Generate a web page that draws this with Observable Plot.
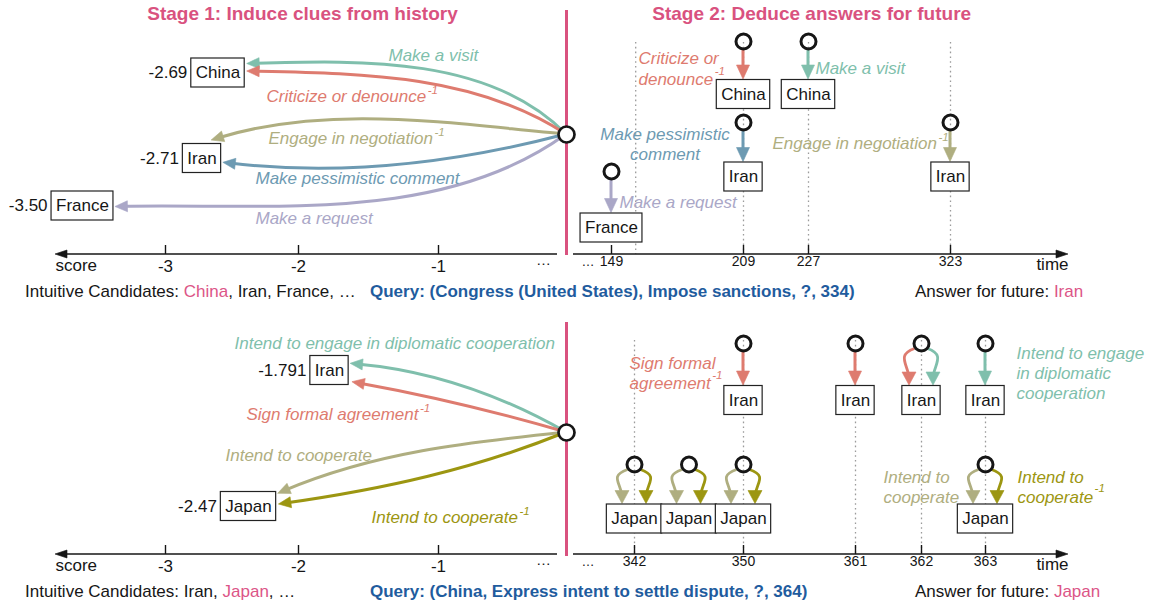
<!DOCTYPE html>
<html><head><meta charset="utf-8">
<script src="https://cdn.jsdelivr.net/npm/d3@7"></script>
<script src="https://cdn.jsdelivr.net/npm/@observablehq/plot@0.6"></script>
<style>
  body { margin: 0; background: #fff; }
  #wrap { position: relative; width: 1153px; height: 605px; overflow: hidden; font-family: "Liberation Sans", Arial, Helvetica, sans-serif; color: #161616; }
  #wrap svg { position: absolute; left: 0; }
  .abs { position: absolute; white-space: nowrap; }
  .title { font-weight: bold; font-size: 19px; line-height: 22px; color: #d9527f; text-align: center; width: 420px; }
  .cap { font-size: 17px; line-height: 20px; }
  .q { font-weight: bold; color: #1f5c9e; }
  .hl { color: #dc5587; }
</style></head>
<body><div id="wrap"></div>
<script>
// ======================= DATA =======================
const stageTitles = ["Stage 1: Induce clues from history", "Stage 2: Deduce answers for future"];
const scoreTicks = [-3, -2, -1];

// ---- Query 1 ----
const q1Query = "(Congress (United States), Impose sanctions, ?, 334)";
const q1QueryTime = 334;
const q1Candidates = ["China", "Iran", "France"];
const q1Scores = [-2.69, -2.71, -3.50];
const q1ScoreLabels = ["-2.69", "-2.71", "-3.50"];
const q1Intuitive = ["China", "Iran", "France"];
const q1IntuitiveMark = "China";
const q1Answer = "Iran";
const q1ClueRelations = ["Make a visit", "Criticize or denounce⁻¹", "Engage in negotiation⁻¹", "Make pessimistic comment", "Make a request"];
const q1ClueTargets = ["China", "China", "Iran", "Iran", "France"];
const q1EventTimes = [149, 209, 209, 227, 323];
const q1EventEntities = ["France", "Iran", "China", "China", "Iran"];
const q1EventRelations = ["Make a request", "Make pessimistic comment", "Criticize or denounce⁻¹", "Make a visit", "Engage in negotiation⁻¹"];
const q1TimeTicks = [149, 209, 227, 323];

// ---- Query 2 ----
const q2Query = "(China, Express intent to settle dispute, ?, 364)";
const q2QueryTime = 364;
const q2Candidates = ["Iran", "Japan"];
const q2Scores = [-1.791, -2.47];
const q2ScoreLabels = ["-1.791", "-2.47"];
const q2Intuitive = ["Iran", "Japan"];
const q2IntuitiveMark = "Japan";
const q2Answer = "Japan";
const q2ClueRelations = ["Intend to engage in diplomatic cooperation", "Sign formal agreement⁻¹", "Intend to cooperate", "Intend to cooperate⁻¹"];
const q2ClueTargets = ["Iran", "Iran", "Japan", "Japan"];
const q2EventTimes = [342, 342, 346, 346, 350, 350, 350, 361, 362, 362, 363, 363, 363];
const q2EventEntities = ["Japan", "Japan", "Japan", "Japan", "Japan", "Japan", "Iran", "Iran", "Iran", "Iran", "Iran", "Japan", "Japan"];
const q2EventRelations = ["Intend to cooperate", "Intend to cooperate⁻¹", "Intend to cooperate", "Intend to cooperate⁻¹",
  "Intend to cooperate", "Intend to cooperate⁻¹", "Sign formal agreement⁻¹", "Sign formal agreement⁻¹",
  "Sign formal agreement⁻¹", "Intend to engage in diplomatic cooperation", "Intend to engage in diplomatic cooperation",
  "Intend to cooperate", "Intend to cooperate⁻¹"];
const q2TimeTicks = [342, 350, 361, 362, 363];

// ======================= STYLE / LAYOUT =======================
const FONT = '"Liberation Sans", Arial, Helvetica, sans-serif';
const INK = "#161616", PINK = "#d9527f";
const COL = {teal: "#7fbfac", salmon: "#de7b6f", khaki: "#afae80", steel: "#6d9ab2", lavender: "#aaa7c7", olive: "#9c9611"};
const relColor = {
  "Make a visit": COL.teal, "Criticize or denounce⁻¹": COL.salmon, "Engage in negotiation⁻¹": COL.khaki,
  "Make pessimistic comment": COL.steel, "Make a request": COL.lavender,
  "Intend to engage in diplomatic cooperation": COL.teal, "Sign formal agreement⁻¹": COL.salmon,
  "Intend to cooperate": COL.khaki, "Intend to cooperate⁻¹": COL.olive
};
const QX = 0;                 // x position of the query (divider)
const BOX_H = 29, BOX_PAD = 4.5, R_EVENT = 7.5, R_QUERY = 8;

const L1 = {
  y0: 0, axisY: 254, queryY: 134, pinkY: [10, 255], guideTop: 42, guides: [160, 209, 227, 323],
  xDomain: [-3.7, -3.5, -3, -2.71, -2.69, -2, -1, 0, 149, 209, 227, 323, 334],
  xRange:  [55, 82, 165, 201.5, 217.5, 298, 438, 566, 611, 743, 808, 950, 1068],
  candRows: {China: 72.5, Iran: 158, France: 205.5},
  eventRows: {China: [41, 94], Iran: [122, 176.5], France: [171, 227.5]},
  clueArrows: [
    {endDx: 2.5, endDy: -9, bend: [-33, -14]},
    {endDx: 2.5, endDy: -1.5, bend: [-22, -10]},
    {endDx: -9.5, endDy: -18, bend: [-6, -16]},
    {endDx: 2.2, endDy: 4.3, bend: [10, 11.5]},
    {endDx: 2, endDy: 1, bend: [27, 8]}
  ],
  clueLabels: [{dx: -178, y: 55}, {dx: -300, y: 96}, {dx: -298, y: 138}, {dx: -311, y: 178}, {dx: -311, y: 218}],
  eventLabels: [
    {event: 0, dx: 8, y: 202},
    {event: 1, dx: -78.5, y: 134, breaks: [2], anchor: "middle"},
    {event: 2, dx: -105, y: 58, breaks: [2], gap: 21, supDy: -8},
    {event: 3, dx: 7, y: 68},
    {event: 4, dx: -178, y: 143}
  ],
  captionTop: 282
};
const L2 = {
  y0: 300, axisY: 554, queryY: 432, pinkY: [322, 556], guideTop: 340, guides: q2TimeTicks,
  xDomain: [-3.7, -3, -2.47, -2, -1.791, -1, 0, 342, 350, 361, 362, 363, 364],
  xRange:  [55, 165, 248, 298, 329, 438, 566, 634, 743, 855, 921, 985, 1068],
  candRows: {Iran: 370, Japan: 506},
  eventRows: {Iran: [343, 400], Japan: [464, 518.5]},
  clueArrows: [
    {endDx: 2, endDy: -6.7, bend: [-12, -12.6]},
    {endDx: 3.8, endDy: 11.7, bend: [-3, -3]},
    {endDx: 2, endDy: -12.7, bend: [-6, -11]},
    {endDx: 2.8, endDy: -2, bend: [8, 6]}
  ],
  clueLabels: [{dx: -332, y: 343}, {dx: -320, y: 414}, {dx: -341, y: 455}, {dx: -195, y: 517}],
  eventLabels: [
    {event: 6, dx: -114, y: 363, breaks: [2], supDy: -8},
    {event: 10, dx: 31, y: 353, breaks: [3, 5]},
    {event: 11, dx: -102, y: 477, breaks: [2]},
    {event: 12, dx: 32, y: 477, breaks: [2], supDy: -9}
  ],
  captionTop: 582
};

// ======================= HELPERS =======================
const NS = "http://www.w3.org/2000/svg";
const ctx2d = document.createElement("canvas").getContext("2d");
function textWidth(s, font) { ctx2d.font = font; return ctx2d.measureText(s).width; }
const boxW = name => textWidth(name, `17px ${FONT}`) + 2 * BOX_PAD;
const SUP = "⁻¹";

function splitLines(text, breaks = []) {
  const words = text.split(" ");
  const cuts = [0, ...breaks, words.length];
  return cuts.slice(0, -1).map((c, i) => words.slice(c, cuts[i + 1]).join(" "));
}

function labelMarks(text, {at, dx, y, anchor = "start", color, breaks, gap = 20, supDy = -6}) {
  const out = [];
  splitLines(text, breaks).forEach((line, j) => {
    const hasSup = line.endsWith(SUP);
    const base = hasSup ? line.slice(0, -SUP.length) : line;
    const yy = y + j * gap;
    out.push(Plot.text([base], {x: () => at, y: () => yy, text: d => d, dx, textAnchor: anchor,
      fill: color, fontSize: 17, fontStyle: "italic"}));
    if (hasSup) {
      const w = textWidth(base, `italic 17px ${FONT}`);
      out.push(Plot.text(["-1"], {x: () => at, y: () => yy + supDy, text: d => d, dx: dx + w + 1.5,
        textAnchor: "start", fill: color, fontSize: 11.5, fontStyle: "italic"}));
    }
  });
  return out;
}

// custom mark: arrows with filled heads, positioned through the plot's scales
function arrowMark(specs, tx) {
  return (index, scales) => {
    // the x scale carries a piecewise transform; apply it here if the scale function does not
    const plain = Math.abs(scales.x(1000) - 1000) < 1e-6;
    const X = v => plain ? scales.x(tx(v)) : scales.x(v);
    const Y = v => scales.y(v);
    const g = document.createElementNS(NS, "g");
    for (const s of specs) {
      let d, head;
      if (s.curl) {
        const k = s.curl, cx = X(s.x), cy = Y(s.cy), by = Y(s.by) - BOX_H / 2;
        const [hl, hw] = s.head;
        const S = [cx + 6.5 * k, cy + 5.5], C1 = [cx + 25 * k, cy + 12], C2 = [cx + 13 * k, by - 21], E = [cx + 12 * k, by - 8];
        d = `M${S}C${C1} ${C2} ${E}`;
        const tip = [cx + 12 * k, by - 0.5];
        head = [tip, [tip[0] - hw, tip[1] - hl], [tip[0] + hw, tip[1] - hl]];
      } else {
        const x1 = X(s.x1) + (s.dx1 || 0), y1 = Y(s.y1) + (s.dy1 || 0);
        const x2 = X(s.x2) + (s.dx2 || 0), y2 = Y(s.y2) + (s.dy2 || 0);
        const phi = Math.atan2(y2 - y1, x2 - x1), len = Math.hypot(x2 - x1, y2 - y1);
        const [bs, be] = (s.bend || [0, 0]).map(v => v * Math.PI / 180);
        const a0 = phi - bs, a1 = phi + be;
        const [hl, hw] = s.head;
        const ex = x2 - 0.55 * hl * Math.cos(a1), ey = y2 - 0.55 * hl * Math.sin(a1);
        const kk = len / 3;
        const C1 = [x1 + kk * Math.cos(a0), y1 + kk * Math.sin(a0)];
        const C2 = [ex - kk * Math.cos(a1), ey - kk * Math.sin(a1)];
        d = `M${x1},${y1}C${C1} ${C2} ${ex},${ey}`;
        const bx = x2 - hl * Math.cos(a1), byy = y2 - hl * Math.sin(a1);
        const nx = -Math.sin(a1), ny = Math.cos(a1);
        head = [[x2, y2], [bx + hw * nx, byy + hw * ny], [bx - hw * nx, byy - hw * ny]];
      }
      const p = document.createElementNS(NS, "path");
      p.setAttribute("d", d); p.setAttribute("fill", "none");
      p.setAttribute("stroke", s.color); p.setAttribute("stroke-width", s.width);
      g.appendChild(p);
      const h = document.createElementNS(NS, "path");
      h.setAttribute("d", `M${head[0]}L${head[1]}L${head[2]}Z`);
      h.setAttribute("fill", s.color); h.setAttribute("stroke", s.color); h.setAttribute("stroke-width", 0.6);
      h.setAttribute("stroke-linejoin", "round");
      g.appendChild(h);
    }
    return g;
  };
}

function buildPanel(q, L) {
  // piecewise position transform for the x scale (score side | query | time side)
  const tx = d3.scaleLinear().domain(L.xDomain).range(L.xRange);
  const cands = q.candidates.map((name, i) => ({name, score: q.scores[i], label: q.scoreLabels[i]}));
  const candOf = Object.fromEntries(cands.map(c => [c.name, c]));
  const events = q.eventTimes.map((time, i) => ({time, entity: q.eventEntities[i], rel: q.eventRelations[i]}));
  const nodes = d3.groups(events, e => e.time + "|" + e.entity)
    .map(([, es]) => ({time: es[0].time, entity: es[0].entity, edges: es}));

  const arrows = [
    {x1: QX, dx1: -9, y1: L.axisY, x2: L.xDomain[0], y2: L.axisY, color: INK, width: 1.6, head: [12, 4]},
    {x1: QX, dx1: 7, y1: L.axisY, x2: q.queryTime, y2: L.axisY, color: INK, width: 1.6, head: [12, 4]}
  ];
  q.clueRelations.forEach((rel, i) => {
    const c = candOf[q.clueTargets[i]], a = L.clueArrows[i];
    arrows.push({x1: QX, y1: L.queryY, x2: c.score, y2: L.candRows[c.name],
      dx2: boxW(c.name) / 2 + a.endDx, dy2: a.endDy, bend: a.bend,
      color: relColor[rel], width: 3, head: [12.5, 5.5]});
  });
  nodes.forEach(n => {
    const [cy, by] = L.eventRows[n.entity];
    if (n.edges.length === 1) {
      arrows.push({x1: n.time, x2: n.time, y1: cy, dy1: R_EVENT + 1.3, y2: by, dy2: -BOX_H / 2 - 0.5,
        color: relColor[n.edges[0].rel], width: 3, head: [14, 6.5]});
    } else {
      n.edges.forEach((e, j) => arrows.push({curl: j === 0 ? -1 : 1, x: n.time, cy, by,
        color: relColor[e.rel], width: 2.8, head: [13, 7]}));
    }
  });

  const marks = [
    Plot.ruleX(L.guides, {x: d => d, y1: L.guideTop, y2: L.axisY, stroke: "#9b9b9b", strokeWidth: 1.3, strokeDasharray: "1.6,3.2"}),
    Plot.ruleX([QX], {x: d => d, y1: L.pinkY[0], y2: L.pinkY[1], stroke: PINK, strokeWidth: 3}),
    // axis ticks (pointing up) and tick labels
    Plot.ruleX([...scoreTicks, ...q.timeTicks], {x: d => d, y1: L.axisY - 9, y2: L.axisY, stroke: INK, strokeWidth: 1.4}),
    Plot.text(scoreTicks, {x: d => d, y: () => L.axisY + 12, text: d => `${d}`, fontSize: 17, fill: INK}),
    Plot.text(q.timeTicks, {x: d => d, y: () => L.axisY + 7.5, text: d => `${d}`, fontSize: 14, fill: INK}),
    Plot.text(["score"], {x: () => L.xDomain[0], y: () => L.axisY + 11, text: d => d, textAnchor: "start", fontSize: 17, fill: INK}),
    Plot.text(["time"], {x: () => q.queryTime, y: () => L.axisY + 10, text: d => d, textAnchor: "end", fontSize: 17, fill: INK}),
    Plot.text(["…"], {x: () => QX, y: () => L.axisY + 6, dx: -23, text: d => d, fontSize: 15, fill: INK}),
    Plot.text(["…"], {x: () => QX, y: () => L.axisY + 7, dx: 21.5, text: d => d, fontSize: 13, fill: INK}),
    arrowMark(arrows, tx)
  ];
  // candidate boxes (stage 1)
  for (const c of cands) {
    const w = boxW(c.name), row = L.candRows[c.name];
    marks.push(
      Plot.rect([c], {x1: "score", x2: "score", y1: () => row - BOX_H / 2, y2: () => row + BOX_H / 2,
        insetLeft: -w / 2, insetRight: -w / 2, fill: "white", stroke: "#222", strokeWidth: 1.2}),
      Plot.text([c], {x: "score", y: () => row, text: "name", fontSize: 17, fill: INK}),
      Plot.text([c], {x: "score", y: () => row, text: "label", dx: -w / 2 - 4, textAnchor: "end", fontSize: 17, fill: INK})
    );
  }
  // event boxes (stage 2)
  for (const [entity, ns] of d3.groups(nodes, n => n.entity)) {
    const w = boxW(entity), row = L.eventRows[entity][1];
    marks.push(
      Plot.rect(ns, {x1: "time", x2: "time", y1: () => row - BOX_H / 2, y2: () => row + BOX_H / 2,
        insetLeft: -w / 2, insetRight: -w / 2, fill: "white", stroke: "#222", strokeWidth: 1.2}),
      Plot.text(ns, {x: "time", y: () => row, text: "entity", fontSize: 17, fill: INK})
    );
  }
  marks.push(
    Plot.dot([QX], {x: d => d, y: () => L.queryY, r: R_QUERY, fill: "white", stroke: INK, strokeWidth: 2.7}),
    Plot.dot(nodes, {x: "time", y: n => L.eventRows[n.entity][0], r: R_EVENT, fill: "none", stroke: INK, strokeWidth: 3})
  );
  // relation labels
  q.clueRelations.forEach((rel, i) => {
    const lb = L.clueLabels[i];
    marks.push(...labelMarks(rel, {at: QX, dx: lb.dx, y: lb.y, color: relColor[rel]}));
  });
  for (const lb of L.eventLabels) {
    const ev = events[lb.event];
    marks.push(...labelMarks(ev.rel, {at: ev.time, dx: lb.dx, y: lb.y, anchor: lb.anchor, color: relColor[ev.rel],
      breaks: lb.breaks, gap: lb.gap, supDy: lb.supDy}));
  }

  const svg = Plot.plot({
    width: 1153, height: 280, marginTop: 0, marginBottom: 26, marginLeft: 0, marginRight: 0,
    x: {type: "linear", domain: [0, 1153], range: [0, 1153], transform: tx, axis: null},
    y: {domain: [L.y0, L.y0 + 254], range: [0, 254], axis: null},
    style: {fontFamily: FONT, background: "none", overflow: "visible", color: INK},
    marks
  });
  svg.style.top = L.y0 + "px";
  return svg;
}

// ======================= RENDER =======================
const wrap = document.getElementById("wrap");
const panels = [
  {q: {query: q1Query, queryTime: q1QueryTime, candidates: q1Candidates, scores: q1Scores, scoreLabels: q1ScoreLabels,
       intuitive: q1Intuitive, intuitiveMark: q1IntuitiveMark, answer: q1Answer, clueRelations: q1ClueRelations,
       clueTargets: q1ClueTargets, eventTimes: q1EventTimes, eventEntities: q1EventEntities,
       eventRelations: q1EventRelations, timeTicks: q1TimeTicks}, L: L1},
  {q: {query: q2Query, queryTime: q2QueryTime, candidates: q2Candidates, scores: q2Scores, scoreLabels: q2ScoreLabels,
       intuitive: q2Intuitive, intuitiveMark: q2IntuitiveMark, answer: q2Answer, clueRelations: q2ClueRelations,
       clueTargets: q2ClueTargets, eventTimes: q2EventTimes, eventEntities: q2EventEntities,
       eventRelations: q2EventRelations, timeTicks: q2TimeTicks}, L: L2}
];
for (const {q, L} of panels) {
  wrap.appendChild(buildPanel(q, L));
  const mk = (html, left, cls) => {
    const d = document.createElement("div");
    d.className = "abs cap " + (cls || "");
    d.style.left = left + "px"; d.style.top = L.captionTop + "px";
    d.innerHTML = html; wrap.appendChild(d);
  };
  mk("Intuitive Candidates: " + q.intuitive.map(c => c === q.intuitiveMark ? `<span class="hl">${c}</span>` : c).join(", ") + ", …", 25);
  mk(`Query: ${q.query}`, 370, "q");
  mk(`Answer for future: <span class="hl">${q.answer}</span>`, 915);
}
[[302.5, stageTitles[0]], [811.7, stageTitles[1]]].forEach(([cx, t]) => {
  const d = document.createElement("div");
  d.className = "abs title"; d.style.left = (cx - 210) + "px"; d.style.top = "3px";
  d.textContent = t; wrap.appendChild(d);
});
</script></body></html>
